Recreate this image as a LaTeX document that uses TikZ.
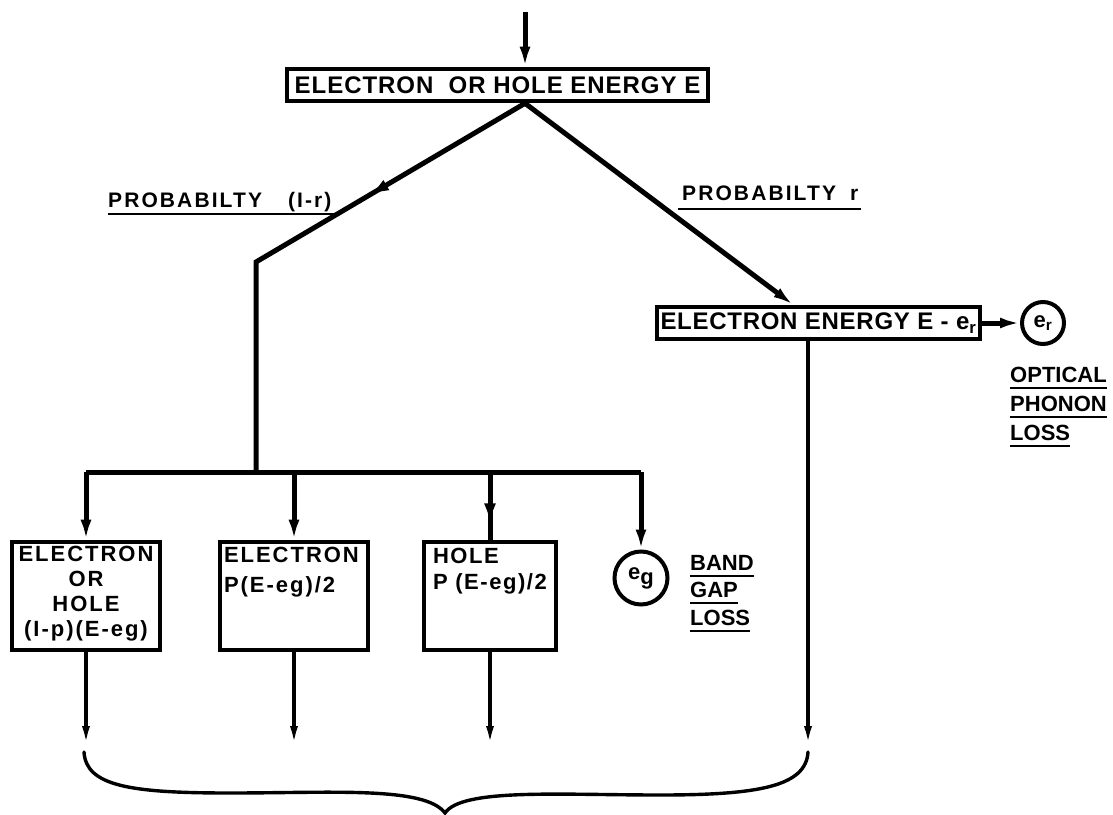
\documentclass[tikz,border=0pt]{standalone}
\usepackage{fontspec}
\setmainfont{Liberation Sans}
\usetikzlibrary{arrows.meta,decorations.markings}
\newcommand{\lsp}[1]{\addfontfeature{LetterSpace=#1}}
\begin{document}
\begin{tikzpicture}[x=1pt,y=-1pt,
  conn/.style={line width=5pt},
  thinconn/.style={line width=3.4pt},
  box/.style={draw,line width=4.6pt,rectangle,inner sep=0pt},
  ring/.style={draw,circle,line width=4pt,inner sep=0pt},
  tip/.style={-{Latex[length=20pt,width=11pt]}},
  smalltip/.style={-{Latex[length=20pt,width=8pt]}},
  midarrow/.style={postaction={decorate},decoration={markings,mark=at position #1 with {\arrow{Latex[length=20pt,width=12pt]}}}},
  lab/.style={inner sep=0pt,anchor=base west},
  uline/.style={line width=2.6pt},
  bigtxt/.style={font=\bfseries\fontsize{24}{26}\selectfont\lsp{4}},
  b2txt/.style={font=\bfseries\fontsize{24}{26}\selectfont\lsp{3}},
  boxtxt/.style={font=\bfseries\fontsize{22}{26}\selectfont},
  labtxt/.style={font=\bfseries\fontsize{21}{26}\selectfont\lsp{10}},
]
\useasboundingbox (0,0) rectangle (1113,814);

% top box and incoming arrow
\node[box,minimum width=421pt,minimum height=32pt,bigtxt] (b1) at (497.5,85) {ELECTRON\ \ OR HOLE ENERGY E};
\coordinate (topc) at (525,12);
\draw[conn,tip] (topc) -- (topc |- b1.north);
\coordinate (v) at (topc |- b1.south);

% right branch
\node[box,minimum width=323pt,minimum height=32pt,b2txt] (b2) at (818.5,323) {ELECTRON ENERGY E - e\textsubscript{r}};
\coordinate (rtip) at (793,0);
\draw[conn,tip] (v) -- (b2.north -| rtip);
\node[ring,minimum size=42pt,boxtxt] (er) at (1043,323) {e\textsubscript{r}};
\draw[conn,tip] (b2.east) -- (er.west);

% probability labels
\node[lab,labtxt] (pl) at (108,207) {PROBABILTY\hspace{26pt}(I-r)};
\draw[uline] ([yshift=-7pt]pl.base west) -- ([yshift=-7pt,xshift=4pt]pl.base east);
\node[lab,labtxt] (pr) at (682,200) {PROBABILTY\hspace{14pt}r};
\draw[uline] ([yshift=-9pt,xshift=-4pt]pr.base west) -- ([yshift=-9pt,xshift=3pt]pr.base east);

% optical phonon loss
\node[lab,boxtxt] (op1) at (1010,382) {OPTICAL};
\node[lab,boxtxt] (op2) at (1010,411) {PHONON};
\node[lab,boxtxt] (op3) at (1010,440) {LOSS};
\foreach \n in {op1,op2,op3}
  \draw[uline] ([yshift=-6pt]\n.base west) -- ([yshift=-6pt]\n.base east);

% bottom boxes
\node[box,minimum width=148pt,minimum height=108pt] (bA) at (86,596)
  {\parbox[c][104pt][t]{148pt}{\centering\bfseries\fontsize{22}{25}\selectfont\lsp{9}\vspace*{2pt}ELECTRON\\OR\\HOLE\\(I-p)(E-eg)}};
\node[box,minimum width=148pt,minimum height=108pt] (bB) at (294,596)
  {\parbox[c][104pt][t]{148pt}{\raggedright\bfseries\fontsize{22}{30}\selectfont\lsp{9}\vspace*{3pt}\hspace*{4pt}ELECTRON\\\hspace*{4pt}P(E-eg)/2}};
\node[box,minimum width=132pt,minimum height=108pt] (bC) at (490,596)
  {\parbox[c][104pt][t]{132pt}{\raggedright\bfseries\fontsize{22}{26}\selectfont\lsp{7}\vspace*{4pt}\hspace*{9pt}HOLE\\\hspace*{9pt}P (E-eg)/2}};
\node[ring,minimum size=53pt,boxtxt] (eg) at (641,578) {e\raisebox{-5pt}{g}};

% band gap loss
\node[lab,boxtxt] (bg1) at (690,570) {BAND};
\node[lab,boxtxt] (bg2) at (690,597) {GAP};
\node[lab,boxtxt] (bg3) at (690,625) {LOSS};
\foreach \n in {bg1,bg2,bg3}
  \draw[uline] ([yshift=-6pt]\n.base west) -- ([yshift=-6pt]\n.base east);

% left branch and bus
\coordinate (corner) at (256,262);
\coordinate (bus) at (0,472);
\draw[conn,midarrow=181pt] (v) -- (corner) -- (corner |- bus);
\draw[conn] (bA.north |- bus) -- (eg.north |- bus);
\draw[conn,tip] (bA.north |- bus) -- (bA.north);
\draw[conn,tip] (bB.north |- bus) -- (bB.north);
\draw[conn,midarrow=0.76] (bC.north |- bus) -- (bC.north);
\draw[conn,tip] (eg.north |- bus) -- (eg.north);

% outgoing arrows
\coordinate (bot) at (0,746);
\coordinate (rd) at (808,0);
\draw[thinconn,smalltip] (bA.south) -- (bA.south |- bot);
\draw[thinconn,smalltip] (bB.south) -- (bB.south |- bot);
\draw[thinconn,smalltip] (bC.south) -- (bC.south |- bot);
\draw[thinconn,smalltip] (b2.south -| rd) -- (rd |- bot);

% brace
\coordinate (brL) at (84,752);
\coordinate (brT) at (445,813);
\coordinate (brR) at (808,752);
\draw[line width=3.4pt,line cap=round]
  (brL) .. controls (86,786) and (130,793) .. (230,793)
        .. controls (330,793) and (425,786) .. (brT)
        .. controls (462,788) and (560,795) .. (660,795)
        .. controls (760,795) and (806,786) .. (brR);
\end{tikzpicture}
\end{document}
